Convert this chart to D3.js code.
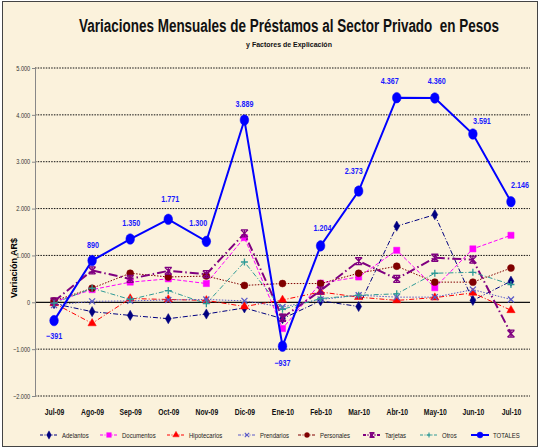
<!DOCTYPE html>
<html>
<head>
<meta charset="utf-8">
<script src="https://cdn.jsdelivr.net/npm/d3@7"></script>
<style>
  html, body { margin: 0; padding: 0; background: #fff; }
  svg { display: block; }
  text { font-family: "Liberation Sans", Arial, sans-serif; }
</style>
</head>
<body>
<div id="chart"></div>
<script>
/***** Data *****/
const months = ["Jul-09","Ago-09","Sep-09","Oct-09","Nov-09","Dic-09","Ene-10",
                "Feb-10","Mar-10","Abr-10","May-10","Jun-10","Jul-10"];
const adelantos    = [-30, -200, -280, -350, -250, -120, -350, 30, -90, 1625, 1870, 40, 450];
const documentos   = [10, 270, 430, 500, 400, 1380, -560, 410, 540, 1110, 310, 1140, 1430];
const hipotecarios = [-20, -450, 80, 60, 40, -90, 50, 220, 110, 40, 100, 200, -170];
const prendarios   = [-60, 20, 30, 50, 60, 30, -100, 60, 150, 110, 110, 270, 60];
const personales   = [30, 300, 620, 540, 560, 360, 400, 400, 620, 770, 430, 430, 730];
const tarjetas     = [20, 680, 500, 670, 600, 1470, -330, 250, 880, 500, 950, 910, -670];
const otros        = [-20, 300, 60, 250, -30, 860, -150, 80, 150, 180, 620, 640, 380];
const totales      = [-391, 890, 1350, 1771, 1300, 3889, -937, 1204, 2373, 4367, 4360, 3591, 2146];
const yTicks       = [5000, 4000, 3000, 2000, 1000, 0, -1000, -2000];

/***** Setup *****/
const W = 540, H = 448;
const NARROW = 0.8;   // fake "Arial Narrow"
const es = d3.formatLocale({ decimal: ",", thousands: ".", grouping: [3], currency: ["$", ""] });
const fmt = es.format(",d");

const svg = d3.select("#chart").append("svg").attr("width", W).attr("height", H);

svg.append("rect").attr("x", 2.5).attr("y", 1.5).attr("width", W - 5).attr("height", H - 3)
   .attr("fill", "#fbf2dc").attr("stroke", "#444").attr("stroke-width", 1);

const x = d3.scalePoint().domain(months).range([35, 530]).padding(0.5);
const y = d3.scaleLinear().domain([-2000, 5000]).range([396, 68]);

/***** Titles (squeezed to the target width) *****/
function squeezed(txt, cx, cy, size, width) {
  const g = svg.append("g");
  const t = g.append("text").attr("text-anchor", "middle").style("white-space", "pre")
     .attr("font-size", size).attr("font-weight", "bold").attr("fill", "#111").text(txt);
  const k = width / t.node().getComputedTextLength();
  g.attr("transform", `translate(${cx},${cy}) scale(${k},1)`);
}
squeezed("Variaciones Mensuales de Préstamos al Sector Privado  en Pesos", 289, 32, 17.5, 420);
squeezed("y Factores de Explicación", 289, 47, 8, 86);

svg.append("text").attr("transform", "translate(17,268) rotate(-90)")
   .attr("text-anchor", "middle").attr("font-size", 9).attr("font-weight", "bold")
   .text("Variación AR$");

/***** Grid & axes *****/
svg.append("g").selectAll("line").data(yTicks).join("line")
   .attr("x1", 35).attr("x2", 530)
   .attr("y1", d => y(d)).attr("y2", d => y(d))
   .attr("stroke", "#111")
   .attr("stroke-width", d => d === 0 ? 1.3 : 1)
   .attr("stroke-dasharray", d => d === 0 ? null : "1.5,1.2");

const gY = svg.append("g").attr("transform", "translate(35,0)")
   .call(d3.axisLeft(y).tickValues(yTicks).tickFormat(fmt).tickSize(3).tickPadding(3));
gY.select(".domain").attr("stroke", "#888");
gY.selectAll(".tick line").attr("stroke", "#888");
gY.selectAll("text").attr("font-size", 7).attr("fill", "#333")
   .attr("transform", `scale(${NARROW},1)`);

const gX = svg.append("g").attr("transform", "translate(0,396)")
   .call(d3.axisBottom(x).tickSize(0).tickPadding(13));
gX.select(".domain").remove();
gX.selectAll("text").attr("font-size", 8.5).attr("font-weight", "bold").attr("fill", "#111")
   .attr("transform", `scale(${NARROW},1)`);

/***** Series *****/
const symbolPath = (type, s) => {
  if (type === "x")    return `M${-s},${-s}L${s},${s}M${-s},${s}L${s},${-s}`;
  if (type === "plus") return `M${-s},0L${s},0M0,${-s}L0,${s}`;
  if (type === "star") return `M${-s},${-s}L${s},${s}M${-s},${s}L${s},${-s}M0,${-s}L0,${s}M${-s},${-s}L${s},${-s}M${-s},${s}L${s},${s}`;
  const map = { diamond: d3.symbolDiamond, square: d3.symbolSquare, triangle: d3.symbolTriangle, circle: d3.symbolCircle };
  return d3.symbol(map[type], s)();
};

const series = [
  { name: "Adelantos",    values: adelantos,    color: "#000080", dash: "5,2,1,2",   w: 1, sym: "diamond",  size: 30,  lsize: 20,  stroked: false },
  { name: "Documentos",   values: documentos,   color: "#ff00ff", dash: "4,2",       w: 1, sym: "square",   size: 38,  lsize: 22,  stroked: false },
  { name: "Hipotecarios", values: hipotecarios, color: "#ff0000", dash: "5,2,1,2",   w: 1, sym: "triangle", size: 30,  lsize: 18,  stroked: false },
  { name: "Prendarios",   values: prendarios,   color: "#5a5ac8", dash: "1.5,1.5",   w: 1, sym: "x",        size: 3,   lsize: 2.2, stroked: true },
  { name: "Personales",   values: personales,   color: "#800000", dash: "1.5,1.5",   w: 1, sym: "circle",   size: 38,  lsize: 20,  stroked: false },
  { name: "Tarjetas",     values: tarjetas,     color: "#800080", dash: "9,3,1.5,3", w: 2, sym: "star",     size: 3.5, lsize: 2.5, stroked: true },
  { name: "Otros",        values: otros,        color: "#2e9a96", dash: "5,2,1,2",   w: 1, sym: "plus",     size: 3.5, lsize: 2.5, stroked: true },
  { name: "TOTALES",      values: totales,      color: "#0000ff", dash: null,        w: 2, sym: "circle",   size: 72,  lsize: 28,  stroked: false }
];

const line = d3.line().x((d, i) => x(months[i])).y(d => y(d));

series.forEach(s => {
  const g = svg.append("g");
  g.append("path").datum(s.values).attr("d", line)
   .attr("fill", "none").attr("stroke", s.color).attr("stroke-width", s.w)
   .attr("stroke-dasharray", s.dash);
  g.selectAll("path.m").data(s.values).join("path").attr("class", "m")
   .attr("transform", (d, i) => `translate(${x(months[i])},${y(d)})` + (s.name === "TOTALES" ? " scale(0.9,1.1)" : ""))
   .attr("d", symbolPath(s.sym, s.size))
   .attr("fill", s.stroked ? "none" : s.color)
   .attr("stroke", s.color).attr("stroke-width", s.stroked ? 1.3 : 0.5);
});

/***** TOTALES labels *****/
const labelDx = [0, 1, 1, 2, -8, 0, 0, 2, -5, -7, 2, 9, 9];
const labelDy = [18, -13, -13, -17, -15, -13, 20, -15, -17, -14, -14, -10, -14];
svg.append("g").selectAll("g").data(totales).join("g")
   .attr("transform", (d, i) => `translate(${x(months[i]) + labelDx[i]},${y(d) + labelDy[i]})`)
   .append("text")
   .attr("text-anchor", "middle").attr("font-size", 9).attr("font-weight", "bold")
   .attr("fill", "#1a1aff").attr("transform", `scale(${NARROW},1)`)
   .text(d => fmt(d));

/***** Legend *****/
const legendX = [40, 100, 167, 238, 298, 363, 420, 471];
const lg = svg.append("g").selectAll("g").data(series).join("g")
   .attr("transform", (d, i) => `translate(${legendX[i]},435)`);
lg.append("line").attr("x1", 0).attr("x2", 18).attr("y1", 0).attr("y2", 0)
  .attr("stroke", d => d.color).attr("stroke-width", d => d.w)
  .attr("stroke-dasharray", d => d.dash ? "3,1.5,1,1.5" : null);
lg.append("path").attr("transform", "translate(9,0)")
  .attr("d", d => symbolPath(d.sym, d.lsize))
  .attr("fill", d => d.stroked ? "none" : d.color)
  .attr("stroke", d => d.color).attr("stroke-width", d => d.stroked ? 1.1 : 0.4);
lg.append("text").attr("transform", `translate(22,2.5) scale(${NARROW},1)`)
  .attr("font-size", 7.5).attr("fill", "#222")
  .text(d => d.name);
</script>
</body>
</html>
